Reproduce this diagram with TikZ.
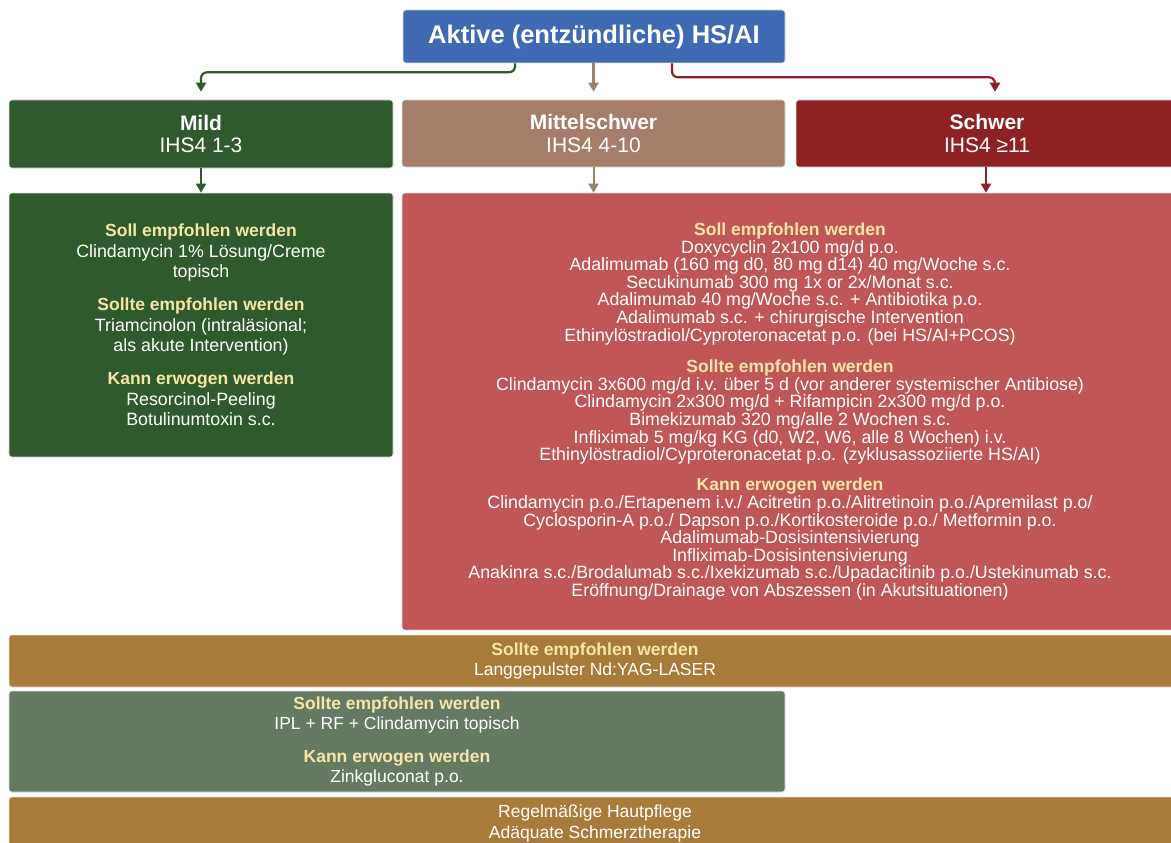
\documentclass[tikz,border=0pt]{standalone}
\usepackage{fontspec}
\setmainfont{Liberation Sans}
\usetikzlibrary{arrows.meta}
\definecolor{cblue}{HTML}{3D6AB3}
\definecolor{cgreen}{HTML}{2E5A2D}
\definecolor{cbrown}{HTML}{A67D6A}
\definecolor{cdred}{HTML}{8E2222}
\definecolor{cred}{HTML}{C05656}
\definecolor{cgold}{HTML}{A97B3A}
\definecolor{csage}{HTML}{667A63}
\definecolor{hy}{HTML}{F5E6A8}
\tikzset{
  box/.style={rounded corners=3pt, draw=black!12, line width=0.6pt, inner sep=0pt, align=center, text=white},
  conn/.style={line width=2.2pt, rounded corners=6pt, -{Triangle[width=10pt,length=9pt]}},
  body/.style={font=\fontsize{17.8}{20.5}\selectfont},
  dense/.style={font=\fontsize{17.8}{17.6}\selectfont},
  lvl/.style={font=\fontsize{21}{22.5}\selectfont},
}
\newcommand\hdg[1]{{\color{hy}\bfseries\fontsize{17.5}{17.5}\selectfont #1}}
\begin{document}
\begin{tikzpicture}[x=1pt,y=-1pt]
\useasboundingbox[fill=white] (0,0) rectangle (1171,843);
% top
\node[box, fill=cblue, minimum width=382pt, minimum height=53pt, font=\bfseries\fontsize{25.5}{28}\selectfont] (top) at (594,36.5) {Aktive (entzündliche) HS/AI};
% level 2
\node[box, fill=cgreen, minimum width=384pt, minimum height=68pt, lvl] (mild) at (201,134) {\textbf{Mild}\\IHS4 1-3};
\node[box, fill=cbrown, minimum width=383pt, minimum height=67pt, lvl] (mittel) at (593.5,133.5) {\textbf{Mittelschwer}\\IHS4 4-10};
\node[box, fill=cdred, minimum width=382pt, minimum height=67pt, lvl] (schwer) at (987,133.5) {\textbf{Schwer}\\IHS4 ≥11};
% level 3
\node[box, fill=cgreen, minimum width=384pt, minimum height=264pt, body] (mildc) at (201,325) {%
\hdg{Soll empfohlen werden}\\
Clindamycin 1\% Lösung/Creme\\
topisch\\[12.5pt]
\hdg{Sollte empfohlen werden}\\
Triamcinolon (intraläsional;\\
als akute Intervention)\\[12.5pt]
\hdg{Kann erwogen werden}\\
Resorcinol-Peeling\\
Botulinumtoxin s.c.};
\node[box, fill=cred, minimum width=776pt, minimum height=437pt, dense] (redc) at (790,411.5) {%
\hdg{Soll empfohlen werden}\\
Doxycyclin 2x100 mg/d p.o.\\
Adalimumab (160 mg d0, 80 mg d14) 40 mg/Woche s.c.\\
Secukinumab 300 mg 1x or 2x/Monat s.c.\\
Adalimumab 40 mg/Woche s.c. + Antibiotika p.o.\\
Adalimumab s.c. + chirurgische Intervention\\
Ethinylöstradiol/Cyproteronacetat p.o. (bei HS/AI+PCOS)\\[14pt]
\hdg{Sollte empfohlen werden}\\
Clindamycin 3x600 mg/d i.v. über 5 d (vor anderer systemischer Antibiose)\\
Clindamycin 2x300 mg/d + Rifampicin 2x300 mg/d p.o.\\
Bimekizumab 320 mg/alle 2 Wochen s.c.\\
Infliximab 5 mg/kg KG (d0, W2, W6, alle 8 Wochen) i.v.\\
Ethinylöstradiol/Cyproteronacetat p.o. (zyklusassoziierte HS/AI)\\[12.5pt]
\hdg{Kann erwogen werden}\\
Clindamycin p.o./Ertapenem i.v./ Acitretin p.o./Alitretinoin p.o./Apremilast p.o/\\
Cyclosporin-A p.o./ Dapson p.o./Kortikosteroide p.o./ Metformin p.o.\\
Adalimumab-Dosisintensivierung\\
Infliximab-Dosisintensivierung\\
Anakinra s.c./Brodalumab s.c./Ixekizumab s.c./Upadacitinib p.o./Ustekinumab s.c.\\
Eröffnung/Drainage von Abszessen (in Akutsituationen)};
% bottom bars
\node[box, fill=cgold, minimum width=1172pt, minimum height=52pt, font=\fontsize{17.5}{20}\selectfont] (laser) at (595,661) {%
\hdg{Sollte empfohlen werden}\\
Langgepulster Nd:YAG-LASER};
\node[box, fill=csage, minimum width=776pt, minimum height=101pt, font=\fontsize{17.5}{20}\selectfont] (ipl) at (397,741.5) {%
\hdg{Sollte empfohlen werden}\\
IPL + RF + Clindamycin topisch\\[13pt]
\hdg{Kann erwogen werden}\\
Zinkgluconat p.o.};
\node[box, fill=cgold, minimum width=1172pt, minimum height=53pt, font=\fontsize{17.5}{21}\selectfont] (care) at (595,823.5) {%
Regelmäßige Hautpflege\\
Adäquate Schmerztherapie};
% connectors
\coordinate (gx) at (515,0);
\coordinate (rx) at (672,0);
\coordinate (rx2) at (995,0);
\coordinate (rx3) at (986,0);
\draw[conn, cgreen] (top.south -| gx) -- ++(0,9) -| ([yshift=8pt]mild.north);
\draw[conn, cbrown] (top.south -| mittel.north) -- ([yshift=8pt]mittel.north);
\draw[conn, cdred] (top.south -| rx) -- ++(0,14) -| ([yshift=8pt]schwer.north -| rx2);
\draw[conn, cgreen, line width=2pt] (mild.south) -- (mildc.north);
\draw[conn, cbrown, line width=2pt] (mittel.south) -- (mittel.south |- redc.north);
\draw[conn, cdred, line width=2pt] (schwer.south -| rx3) -- (rx3 |- redc.north);
\end{tikzpicture}
\end{document}
